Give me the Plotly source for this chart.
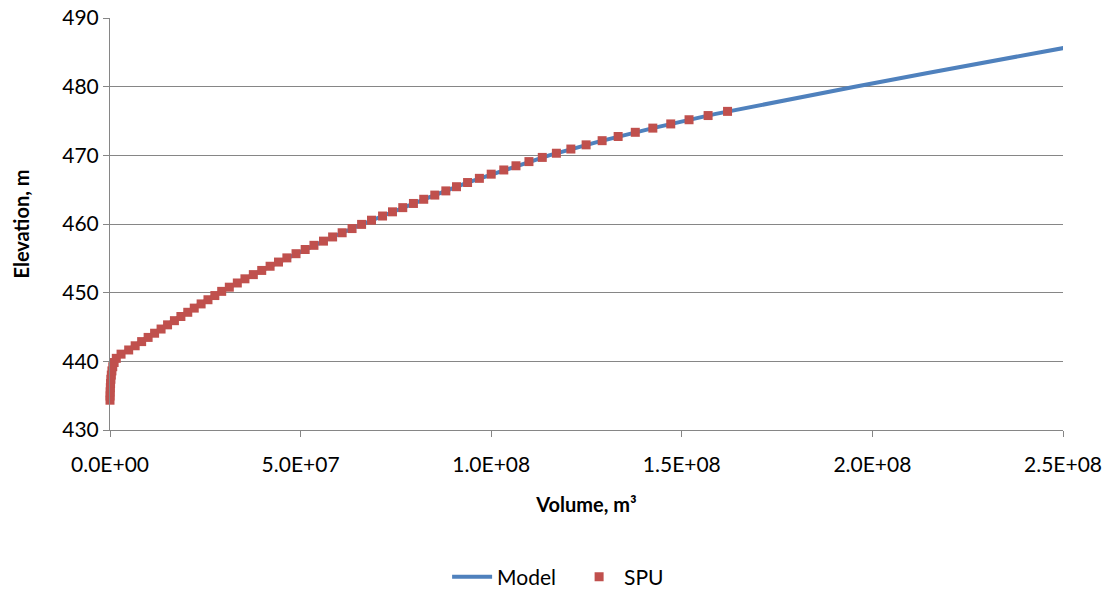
import plotly.graph_objects as go

# SPU survey points (elevation in m, volume in m^3)
spu_elev = [434.340, 434.950, 435.559, 436.169, 436.778, 437.388, 437.998, 438.607,
            439.217, 439.826, 440.436, 441.046, 441.655, 442.265, 442.874, 443.484,
            444.094, 444.703, 445.313, 445.922, 446.532, 447.142, 447.751, 448.361,
            448.970, 449.580, 450.190, 450.799, 451.409, 452.018, 452.628, 453.238,
            453.847, 454.457, 455.066, 455.676, 456.286, 456.895, 457.505, 458.114,
            458.724, 459.334, 459.943, 460.553, 461.162, 461.772, 462.382, 462.991,
            463.601, 464.210, 464.820, 465.430, 466.039, 466.649, 467.258, 467.868,
            468.478, 469.087, 469.697, 470.306, 470.916, 471.526, 472.135, 472.745,
            473.354, 473.964, 474.574, 475.183, 475.793, 476.402]
spu_vol = [0.00e6, 0.02e6, 0.05e6, 0.09e6, 0.15e6, 0.23e6, 0.34e6, 0.50e6,
           0.72e6, 1.08e6, 1.65e6, 2.90e6, 4.90e6, 6.60e6, 8.30e6, 10.0e6,
           11.7e6, 13.4e6, 15.1e6, 16.9e6, 18.6e6, 20.4e6, 22.1e6, 23.9e6,
           25.7e6, 27.5e6, 29.3e6, 31.3e6, 33.4e6, 35.4e6, 37.6e6, 39.8e6,
           42.0e6, 44.2e6, 46.4e6, 48.8e6, 51.2e6, 53.5e6, 56.0e6, 58.4e6,
           60.9e6, 63.5e6, 66.0e6, 68.6e6, 71.5e6, 74.1e6, 76.8e6, 79.6e6,
           82.3e6, 85.2e6, 88.1e6, 90.9e6, 93.8e6, 96.9e6, 100.0e6, 103.3e6,
           106.5e6, 109.9e6, 113.4e6, 117.1e6, 120.9e6, 124.9e6, 129.1e6, 133.3e6,
           137.8e6, 142.4e6, 147.1e6, 151.9e6, 156.9e6, 162.0e6]

# Model curve
model_elev = [434.3, 436, 438, 439, 440, 441, 442, 443, 444, 445, 446, 448, 450,
              452, 454, 456, 458, 460, 462, 464, 466, 468, 470, 472, 474, 476,
              478, 480, 482, 484, 486]
model_vol = [0.0e6, 0.08e6, 0.34e6, 0.64e6, 1.25e6, 2.8e6, 5.7e6, 8.5e6, 11.2e6,
             14.0e6, 16.8e6, 22.5e6, 28.7e6, 35.3e6, 42.6e6, 50.1e6, 57.9e6,
             66.3e6, 75.1e6, 84.2e6, 93.6e6, 104.0e6, 115.2e6, 128.2e6, 142.7e6,
             158.6e6, 176.5e6, 195.4e6, 214.5e6, 234.0e6, 253.8e6]

x_tickvals = [0, 5e7, 1e8, 1.5e8, 2e8, 2.5e8]
x_ticktext = ["0.0E+00", "5.0E+07", "1.0E+08", "1.5E+08", "2.0E+08", "2.5E+08"]
y_tickvals = [430, 440, 450, 460, 470, 480, 490]

FONT = "Lato, 'Open Sans', sans-serif"
GRID = "#868686"

fig = go.Figure()
fig.add_trace(go.Scatter(
    x=model_vol, y=model_elev, name="Model", mode="lines",
    line=dict(color="#4F81BD", width=4), cliponaxis=True))
fig.add_trace(go.Scatter(
    x=spu_vol, y=spu_elev, name="SPU", mode="markers",
    marker=dict(symbol="square", size=9, color="#C0504D",
                line=dict(width=0)), cliponaxis=False))

fig.update_layout(
    width=1120, height=594,
    margin=dict(l=110, r=57, t=18, b=164, autoexpand=False),
    paper_bgcolor="white", plot_bgcolor="white",
    font=dict(family=FONT, size=21, color="#000000"),
    showlegend=True,
    legend=dict(orientation="h", xref="paper", x=0.487, xanchor="center",
                yref="container", y=1 - 577 / 594, yanchor="middle",
                font=dict(size=21), itemwidth=40, entrywidth=72,
                entrywidthmode="pixels"),
    xaxis=dict(range=[0, 2.5e8], tickvals=x_tickvals, ticktext=x_ticktext,
               automargin=False,
               showgrid=False, zeroline=False, showline=True,
               linecolor=GRID, linewidth=1, ticks="outside", ticklen=6,
               tickcolor=GRID, tickfont=dict(size=21), ticklabelstandoff=10,
               title=dict(text="<b>Volume, m³</b>", font=dict(size=20),
                          standoff=22)),
    yaxis=dict(range=[430, 490], tickvals=y_tickvals, automargin=False,
               showgrid=True, gridcolor=GRID, gridwidth=1,
               zeroline=False, showline=True, linecolor=GRID, linewidth=1,
               ticks="outside", ticklen=6, tickcolor=GRID,
               tickfont=dict(size=21),
               title=dict(text="<b>Elevation, m</b>", font=dict(size=20),
                          standoff=27)),
)

fig.write_html("out.html")
